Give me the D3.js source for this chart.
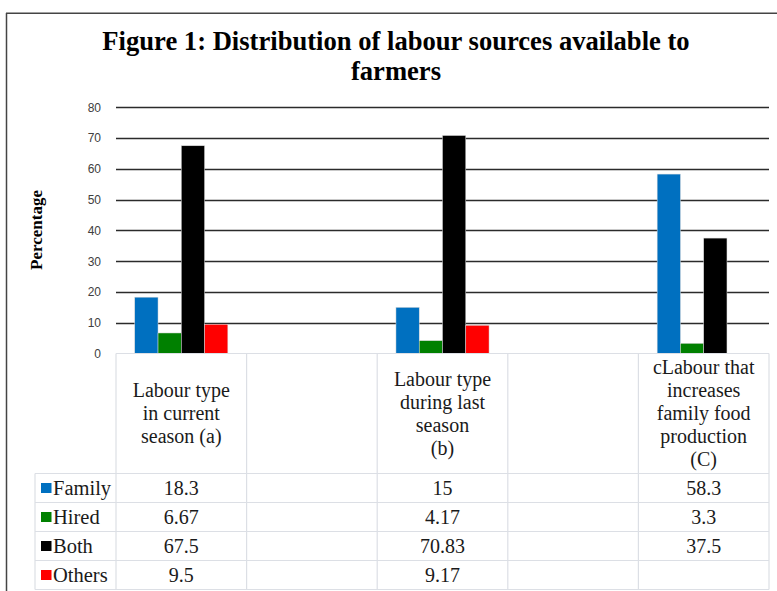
<!DOCTYPE html>
<html>
<head>
<meta charset="utf-8">
<script src="https://cdn.jsdelivr.net/npm/d3@7"></script>
<style>
  html, body { margin: 0; padding: 0; background: #fff; }
  svg { display: block; }
</style>
</head>
<body>
<svg id="chart" width="777" height="591"></svg>
<script>
// ---- data ----
const categories = ["a", "gap1", "b", "gap2", "c"];
const categoryLabels = [
  ["Labour type", "in current", "season (a)"],
  [],
  ["Labour type", "during last", "season", "(b)"],
  [],
  ["cLabour that", "increases", "family food", "production", "(C)"]
];
const seriesNames = ["Family", "Hired", "Both", "Others"];
const seriesColors = ["#0070C0", "#008000", "#000000", "#FF0000"];
const familyValues = [18.3, null, 15, null, 58.3];
const hiredValues = [6.67, null, 4.17, null, 3.3];
const bothValues = [67.5, null, 70.83, null, 37.5];
const othersValues = [9.5, null, 9.17, null, null];
const familyText = ["18.3", "", "15", "", "58.3"];
const hiredText = ["6.67", "", "4.17", "", "3.3"];
const bothText = ["67.5", "", "70.83", "", "37.5"];
const othersText = ["9.5", "", "9.17", "", ""];
const yTicks = [0, 10, 20, 30, 40, 50, 60, 70, 80];
const titleLines = ["Figure 1: Distribution of labour sources available to", "farmers"];
const yAxisTitle = "Percentage";

const seriesValues = [familyValues, hiredValues, bothValues, othersValues];
const seriesText = [familyText, hiredText, bothText, othersText];

// ---- layout ----
const svg = d3.select("#chart");
const plotLeft = 116, plotRight = 769, plotTop = 107.3, plotBottom = 353.5;
const headerBottom = 473.5, rowH = 29;
const legendLeft = 35;
const gridColor = "#2b2b2b";
const tableColor = "#dcdfe5";

const x = d3.scaleBand().domain(categories).range([plotLeft, plotRight]).paddingInner(0).paddingOuter(0);
const x1 = d3.scaleBand().domain(seriesNames).range([0, x.bandwidth()]).paddingInner(0).paddingOuter(0.806);
const y = d3.scaleLinear().domain([0, 80]).range([plotBottom, plotTop]);

// frame
svg.append("line").attr("x1", 6.5).attr("x2", 6.5).attr("y1", 13).attr("y2", 591)
  .attr("stroke", "#444").attr("stroke-width", 1.5);
svg.append("line").attr("x1", 6).attr("x2", 777).attr("y1", 13.3).attr("y2", 13.3)
  .attr("stroke", "#444").attr("stroke-width", 1.5);

// title
svg.append("g").selectAll("text").data(titleLines).join("text")
  .attr("x", 396).attr("y", (d, i) => 50 + i * 30)
  .attr("text-anchor", "middle")
  .attr("font-family", "'Liberation Serif', 'Times New Roman', serif")
  .attr("font-weight", "bold").attr("font-size", 26.6)
  .attr("fill", "#000")
  .text(d => d);

// y axis title
svg.append("text")
  .attr("transform", "translate(42,230) rotate(-90)")
  .attr("text-anchor", "middle")
  .attr("font-family", "'Liberation Serif', 'Times New Roman', serif")
  .attr("font-weight", "bold").attr("font-size", 17)
  .attr("fill", "#000")
  .text(yAxisTitle);

// gridlines (not at 0)
const yAxis = d3.axisLeft(y).tickValues(yTicks).tickSize(0).tickPadding(15);
const gAxis = svg.append("g").attr("transform", `translate(${plotLeft},0)`).call(yAxis);
gAxis.select(".domain").remove();
gAxis.selectAll("text")
  .attr("font-family", "'Liberation Sans', Arial, sans-serif")
  .attr("font-size", 12).attr("fill", "#404040");
svg.append("g").selectAll("line").data(yTicks.filter(t => t > 0)).join("line")
  .attr("x1", plotLeft).attr("x2", plotRight)
  .attr("y1", d => Math.round(y(d)) + 0.5).attr("y2", d => Math.round(y(d)) + 0.5)
  .attr("stroke", gridColor).attr("stroke-width", 1.3);

// bars
const barData = [];
categories.forEach((c, ci) => {
  seriesNames.forEach((s, si) => {
    const v = seriesValues[si][ci];
    if (v != null) barData.push({ c, s, v, color: seriesColors[si] });
  });
});
svg.append("g").selectAll("rect").data(barData).join("rect")
  .attr("x", d => x(d.c) + x1(d.s))
  .attr("width", x1.bandwidth())
  .attr("y", d => y(d.v))
  .attr("height", d => y(0) - y(d.v))
  .attr("fill", d => d.color)
  .attr("stroke", "#d9d9d9").attr("stroke-width", 0.5);

// data table
const tbl = svg.append("g");
const tableBottom = headerBottom + rowH * seriesNames.length;
tbl.append("line").attr("x1", plotLeft).attr("x2", plotRight).attr("y1", plotBottom).attr("y2", plotBottom)
  .attr("stroke", tableColor).attr("stroke-width", 1.2);
for (let i = 0; i <= seriesNames.length; i++) {
  const yy = headerBottom + i * rowH;
  tbl.append("line").attr("x1", legendLeft).attr("x2", plotRight).attr("y1", yy).attr("y2", yy)
    .attr("stroke", tableColor).attr("stroke-width", 1.2);
}
tbl.append("line").attr("x1", legendLeft).attr("x2", legendLeft).attr("y1", headerBottom).attr("y2", tableBottom)
  .attr("stroke", tableColor).attr("stroke-width", 1.2);
const colEdges = categories.map(c => x(c)).concat([plotRight]);
colEdges.forEach(xx => {
  tbl.append("line").attr("x1", xx).attr("x2", xx).attr("y1", plotBottom).attr("y2", tableBottom)
    .attr("stroke", tableColor).attr("stroke-width", 1.2);
});

const serif = "'Liberation Serif', 'Times New Roman', serif";
const headerMid = (plotBottom + headerBottom) / 2;
categories.forEach((c, ci) => {
  const lines = categoryLabels[ci];
  const n = lines.length;
  tbl.append("g").selectAll("text").data(lines).join("text")
    .attr("x", x(c) + x.bandwidth() / 2)
    .attr("y", (d, i) => headerMid + 6.5 + (i - (n - 1) / 2) * 23)
    .attr("text-anchor", "middle")
    .attr("font-family", serif).attr("font-size", 20).attr("fill", "#1a1a1a")
    .text(d => d);
});

seriesNames.forEach((s, si) => {
  const rowMid = headerBottom + si * rowH + rowH / 2;
  tbl.append("rect").attr("x", 41).attr("y", rowMid - 5).attr("width", 10.5).attr("height", 10)
    .attr("fill", seriesColors[si]);
  tbl.append("text").attr("x", 53).attr("y", rowMid + 6.5)
    .attr("font-family", serif).attr("font-size", 20.5).attr("fill", "#1a1a1a")
    .text(s);
  categories.forEach((c, ci) => {
    const t = seriesText[si][ci];
    if (!t) return;
    tbl.append("text").attr("x", x(c) + x.bandwidth() / 2).attr("y", rowMid + 6.5)
      .attr("text-anchor", "middle")
      .attr("font-family", serif).attr("font-size", 20).attr("fill", "#1a1a1a")
      .text(t);
  });
});
</script>
</body>
</html>
